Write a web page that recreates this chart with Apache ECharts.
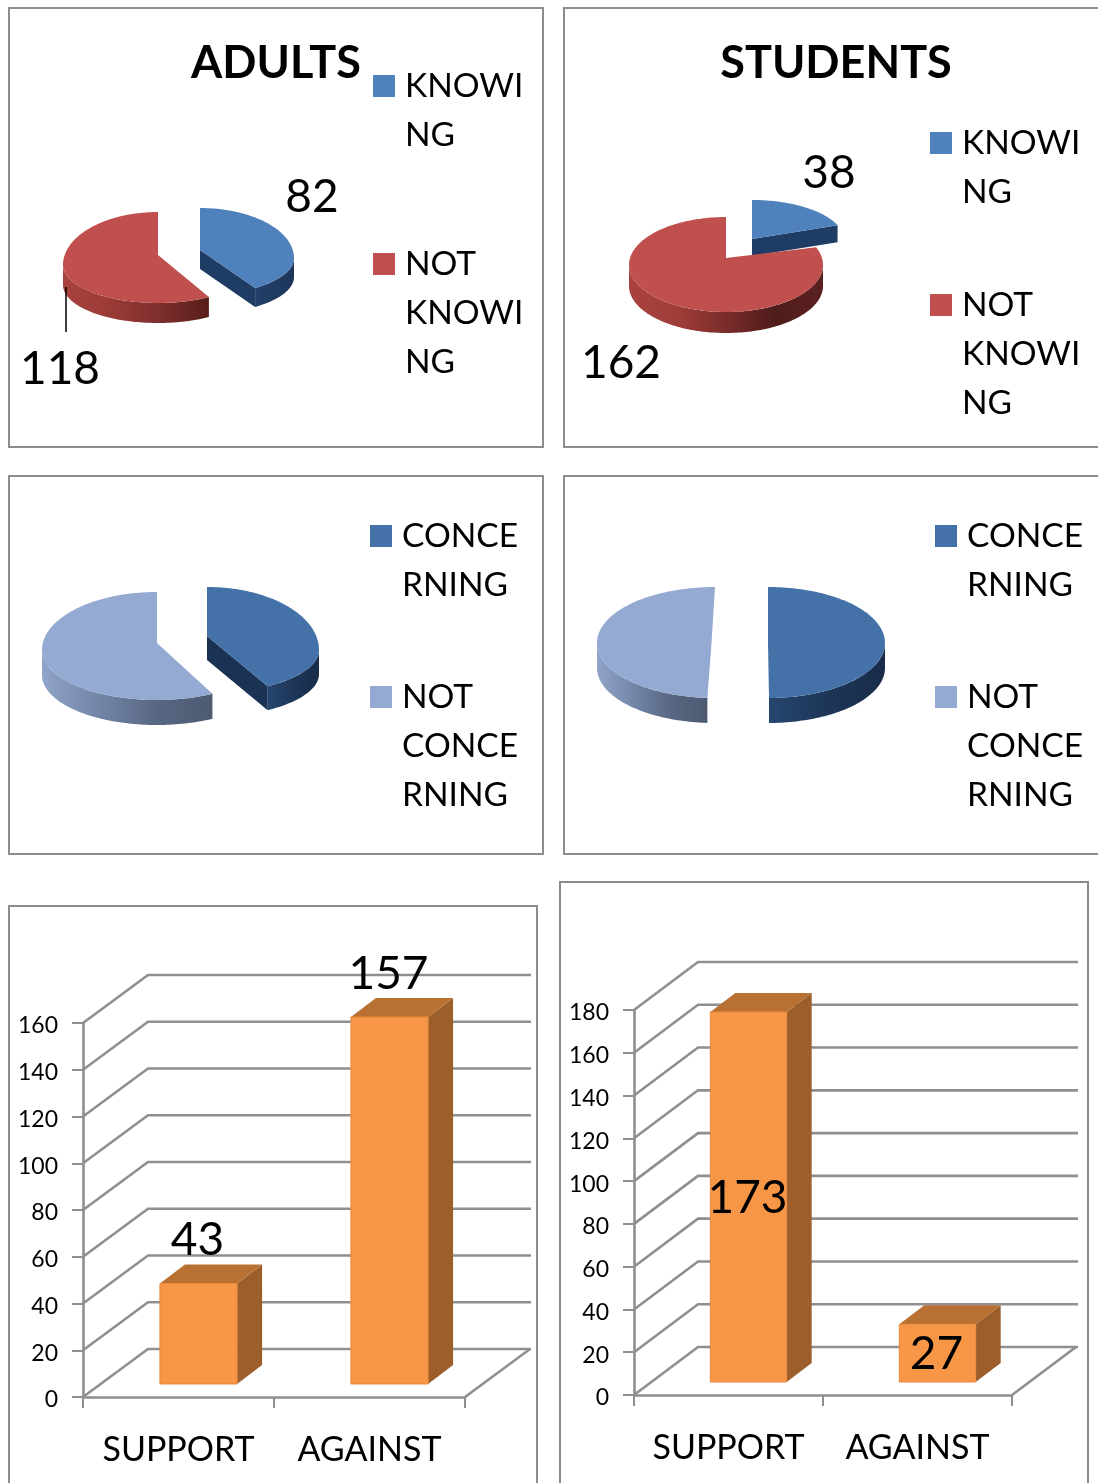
<!DOCTYPE html>
<html><head><meta charset="utf-8">
<style>html,body{margin:0;padding:0;background:#fff;overflow:hidden}#c{width:1098px;height:1483px}</style>
<script src="https://cdn.jsdelivr.net/npm/echarts@6/dist/echarts.min.js"></script>
</head><body><div id="c"></div>
<script>
const FONT = 'Lato';
const knowNames = ['KNOWING', 'NOT KNOWING'];
const concernNames = ['CONCERNING', 'NOT CONCERNING'];
const adultsKnow = [82, 118];
const studentsKnow = [38, 162];
const adultsConcern = [84, 116];
const studentsConcern = [100, 100];
const voteCategories = ['SUPPORT', 'AGAINST'];
const adultsVote = [43, 157];
const studentsVote = [173, 27];
const adultsTicks = [0, 20, 40, 60, 80, 100, 120, 140, 160];
const studentsTicks = [0, 20, 40, 60, 80, 100, 120, 140, 160, 180];
const legendLines = {
  'KNOWING': ['KNOWI', 'NG'],
  'NOT KNOWING': ['NOT', 'KNOWI', 'NG'],
  'CONCERNING': ['CONCE', 'RNING'],
  'NOT CONCERNING': ['NOT', 'CONCE', 'RNING']
};

const LH = 49;
function padded(name) {
  const l = legendLines[name];
  return new Array(l.length - 1).fill(' ').concat(l).join('\n');
}
function legendAt(name, x, lineY) {
  const n = legendLines[name].length;
  return {
    show: true, orient: 'vertical', left: x, top: lineY - (2 * n - 1) * LH / 2 + 1,
    padding: 0, itemWidth: 22, itemHeight: 22, icon: 'rect',
    data: [name], selectedMode: false,
    formatter: padded,
    textStyle: { fontFamily: FONT, fontSize: 33.5, lineHeight: LH, color: '#000', padding: [0, 0, 0, 5] }
  };
}
function grad(stops) {
  return { type: 'linear', x: 0, y: 0, x2: 1, y2: 0,
    colorStops: stops.map((c, i) => ({ offset: i / (stops.length - 1), color: c })) };
}

function sliceSeries(name, values, idx, g) {
  const total = values[0] + values[1];
  const before = idx === 0 ? 0 : values[0];
  return {
    type: 'custom', name: name, coordinateSystem: 'none', silent: true,
    itemStyle: { color: g.color }, z: 3,
    data: [values[idx]],
    renderItem: function (params, api) {
      const v = api.value(0);
      const a0 = before / total * 360 + (g.trimStart || 0);
      const a1 = (before + v) / total * 360 - (g.trimEnd || 0);
      const pt = a => {
        const r = a * Math.PI / 180, c = Math.cos(r);
        return [g.cx + g.rx * Math.sin(r), g.cy - (c > 0 ? g.ryT : g.ryB) * c];
      };
      const apex = [g.cx + (g.apexDx || 0), g.cy + g.apexDy];
      const arc = (s, e) => { const o = []; const n = Math.max(2, Math.ceil((e - s) / 1.5)); for (let i = 0; i <= n; i++) o.push(pt(s + (e - s) * i / n)); return o; };
      const down = p => [p[0], p[1] + g.depth];
      const ch = [];
      const ws = Math.max(a0, 90), we = Math.min(a1, 270);
      if (we > ws) {
        const top = arc(ws, we);
        ch.push({ type: 'polygon', shape: { points: top.concat(top.map(down).reverse()) }, style: { fill: grad(g.wall) } });
      }
      if (a1 < 179) {
        const e = pt(a1);
        ch.push({ type: 'polygon', shape: { points: [apex, e, down(e), down(apex)] }, style: { fill: g.cut || grad(g.wall) } });
      }
      ch.push({ type: 'polygon', shape: { points: [apex].concat(arc(a0, a1)) }, style: { fill: g.color } });
      if (g.leader) ch.push({ type: 'line', shape: { x1: g.leader[0], y1: g.leader[1], x2: g.leader[2], y2: g.leader[3] }, style: { stroke: '#000', lineWidth: 1.5 } });
      if (g.label) ch.push({ type: 'text', style: { text: String(v), x: g.label[0], y: g.label[1], align: 'center', verticalAlign: 'middle', fontFamily: FONT, fontSize: 46, fill: '#000' } });
      return { type: 'group', children: ch };
    }
  };
}

function wallSeries(ticks, gridIndex, dx, dy, extra) {
  return {
    type: 'custom', coordinateSystem: 'cartesian2d', xAxisIndex: gridIndex, yAxisIndex: gridIndex, silent: true, z: 1,
    data: ticks.map(t => [0, t]),
    encode: { x: 0, y: 1 },
    renderItem: function (params, api) {
      const cs = params.coordSys;
      const val = api.value(1);
      const y = api.coord([0, val])[1];
      const xl = cs.x, xr = cs.x + cs.width;
      const st = { stroke: '#8f8f8f', lineWidth: 2.6, fill: null };
      const ch = [
        { type: 'polyline', shape: { points: [[xl, y], [xl + dx, y + dy], [xr + dx + extra, y + dy]] }, style: st }
      ];
      if (val === 0) ch.push({ type: 'line', shape: { x1: xr, y1: y, x2: xr + dx, y2: y + dy }, style: st });
      return { type: 'group', children: ch };
    }
  };
}

function barSeries(values, gridIndex, labelOffsets) {
  return {
    type: 'custom', coordinateSystem: 'cartesian2d', xAxisIndex: gridIndex, yAxisIndex: gridIndex, silent: true, z: 4,
    data: values.map((v, i) => [i, v]),
    encode: { x: 0, y: 1 },
    renderItem: function (params, api) {
      const i = api.value(0), v = api.value(1);
      const top = api.coord([i, v]), base = api.coord([i, 0]);
      const bw = api.size([1, 0])[0] * 0.404;
      const ox = 20, oy = -13, dx = 25, dy = -19;
      const l = top[0] + ox - bw / 2, r = top[0] + ox + bw / 2;
      const t = top[1] + oy, b = base[1] + oy;
      return { type: 'group', children: [
        { type: 'polygon', shape: { points: [[r, t], [r + dx, t + dy], [r + dx, b + dy], [r, b]] }, style: { fill: '#9c5e2b' } },
        { type: 'polygon', shape: { points: [[l, t], [l + dx, t + dy], [r + dx, t + dy], [r, t]] }, style: { fill: '#b97033' } },
        { type: 'rect', shape: { x: l, y: t, width: r - l, height: b - t }, style: { fill: '#f79646', stroke: '#e8893c', lineWidth: 1 } },
        { type: 'text', style: { text: String(v), x: (l + r) / 2 - 1, y: (labelOffsets[i] === null ? (t + b) / 2 : t + labelOffsets[i]) + 1, align: 'center', verticalAlign: 'middle', fontFamily: FONT, fontSize: 46, fill: '#000' } }
      ] };
    }
  };
}

const RED = '#c0504d', BLUE = '#4f81bd', DBLUE = '#4371a8', LBLUE = '#94aad2';
const redWall = ['#a8423f', '#9a3a37', '#7d2e2c', '#571d1b'];
const redWall2 = ['#a8423f', '#a03d3a', '#7a2c2a', '#4f1c1a', '#5a2120'];
const lightWall = ['#8fa4c8', '#7386a8', '#586782', '#4d5a72'];
const dblueWall = ['#27466f', '#1d3658', '#182c48'];
const blueCut = '#1f3c64', dblueCut = '#1a3254';

const series = [
  sliceSeries(knowNames[0], adultsKnow, 0, { color: BLUE, cx: 200, cy: 258, rx: 94, ryT: 50, ryB: 37, apexDy: -8, depth: 19, wall: ['#24416a', '#1d3558'], cut: blueCut, trimEnd: 3.5, label: [312, 197] }),
  sliceSeries(knowNames[1], adultsKnow, 1, { color: RED, cx: 158, cy: 265, rx: 95, ryT: 53, ryB: 38, apexDy: -10, depth: 20, wall: redWall, label: [60, 369], leader: [66, 287, 66, 332] }),
  sliceSeries(knowNames[0], studentsKnow, 0, { color: BLUE, cx: 752, cy: 240, rx: 92, ryT: 40, ryB: 40, apexDy: -1, depth: 17, wall: ['#24416a', '#1d3558'], cut: blueCut, label: [829, 173] }),
  sliceSeries(knowNames[1], studentsKnow, 1, { color: RED, cx: 726, cy: 265, rx: 97, ryT: 48, ryB: 47, apexDy: -7, depth: 21, wall: redWall2, label: [621, 363] }),
  sliceSeries(concernNames[0], adultsConcern, 0, { color: DBLUE, cx: 207, cy: 650, rx: 112, ryT: 63, ryB: 43, apexDy: -14, depth: 24, wall: dblueWall, cut: dblueCut, trimEnd: 4 }),
  sliceSeries(concernNames[1], adultsConcern, 1, { color: LBLUE, cx: 157, cy: 650, rx: 115, ryT: 58, ryB: 50, apexDy: -7, depth: 25, wall: lightWall }),
  sliceSeries(concernNames[0], studentsConcern, 0, { color: DBLUE, cx: 768, cy: 643, rx: 117, ryT: 56, ryB: 55, apexDy: 0, depth: 25, wall: dblueWall, trimEnd: 0.5 }),
  sliceSeries(concernNames[1], studentsConcern, 1, { color: LBLUE, cx: 715, cy: 643, rx: 118, ryT: 56, ryB: 55, apexDy: 0, apexDx: -3.5, depth: 25, wall: lightWall, trimStart: 3.7 }),
  wallSeries(adultsTicks, 0, 65, -48, 1),
  wallSeries(studentsTicks, 1, 64, -48, 2),
  barSeries(adultsVote, 0, [-44, -44]),
  barSeries(studentsVote, 1, [null, null])
];

function xAxis(gridIndex) {
  return {
    type: 'category', gridIndex, data: voteCategories,
    axisLine: { show: true, lineStyle: { color: '#8f8f8f', width: 2.6 } },
    axisTick: { show: true, length: 11, lineStyle: { color: '#8f8f8f', width: 2 } },
    axisLabel: { fontFamily: FONT, fontSize: 34, color: '#000', margin: 36, interval: 0 }
  };
}
function yAxis(gridIndex, max) {
  return {
    type: 'value', gridIndex, min: 0, max, interval: 20,
    axisLine: { show: true, lineStyle: { color: '#8f8f8f', width: 2.6 } },
    axisTick: { show: true, length: 11, lineStyle: { color: '#8f8f8f', width: 2 } },
    splitLine: { show: false },
    axisLabel: { fontFamily: FONT, fontSize: 23, color: '#000', margin: 25, verticalAlign: 'top', lineHeight: 6 }
  };
}
function frame(x, y, w, h) {
  return { type: 'rect', z: 0, silent: true, shape: { x, y, width: w, height: h }, style: { fill: null, stroke: '#8c8c8c', lineWidth: 2 } };
}
function titleAt(text, x) {
  return { text, left: x, top: 41, padding: 0, textAlign: 'center', textStyle: { fontFamily: FONT, fontSize: 45, fontWeight: 'bold', color: '#000' } };
}

const option = {
  animation: false,
  backgroundColor: '#fff',
  title: [titleAt('ADULTS', 276), titleAt('STUDENTS', 836)],
  legend: [
    legendAt(knowNames[0], 373, 85), legendAt(knowNames[1], 373, 263),
    legendAt(knowNames[0], 930, 142), legendAt(knowNames[1], 930, 304),
    legendAt(concernNames[0], 370, 535), legendAt(concernNames[1], 370, 696),
    legendAt(concernNames[0], 935, 535), legendAt(concernNames[1], 935, 696)
  ],
  grid: [
    { left: 83, top: 1023, width: 382, height: 374 },
    { left: 634, top: 1010, width: 378, height: 385 }
  ],
  xAxis: [xAxis(0), xAxis(1)],
  yAxis: [yAxis(0, 160), yAxis(1, 180)],
  graphic: [
    frame(9, 8, 534, 439), frame(564, 8, 560, 439),
    frame(9, 476, 534, 378), frame(564, 476, 560, 378),
    frame(9, 906, 528, 600), frame(560, 882, 528, 640)
  ],
  series
};
echarts.init(document.getElementById('c'), null, { renderer: 'canvas' }).setOption(option);
</script></body></html>
